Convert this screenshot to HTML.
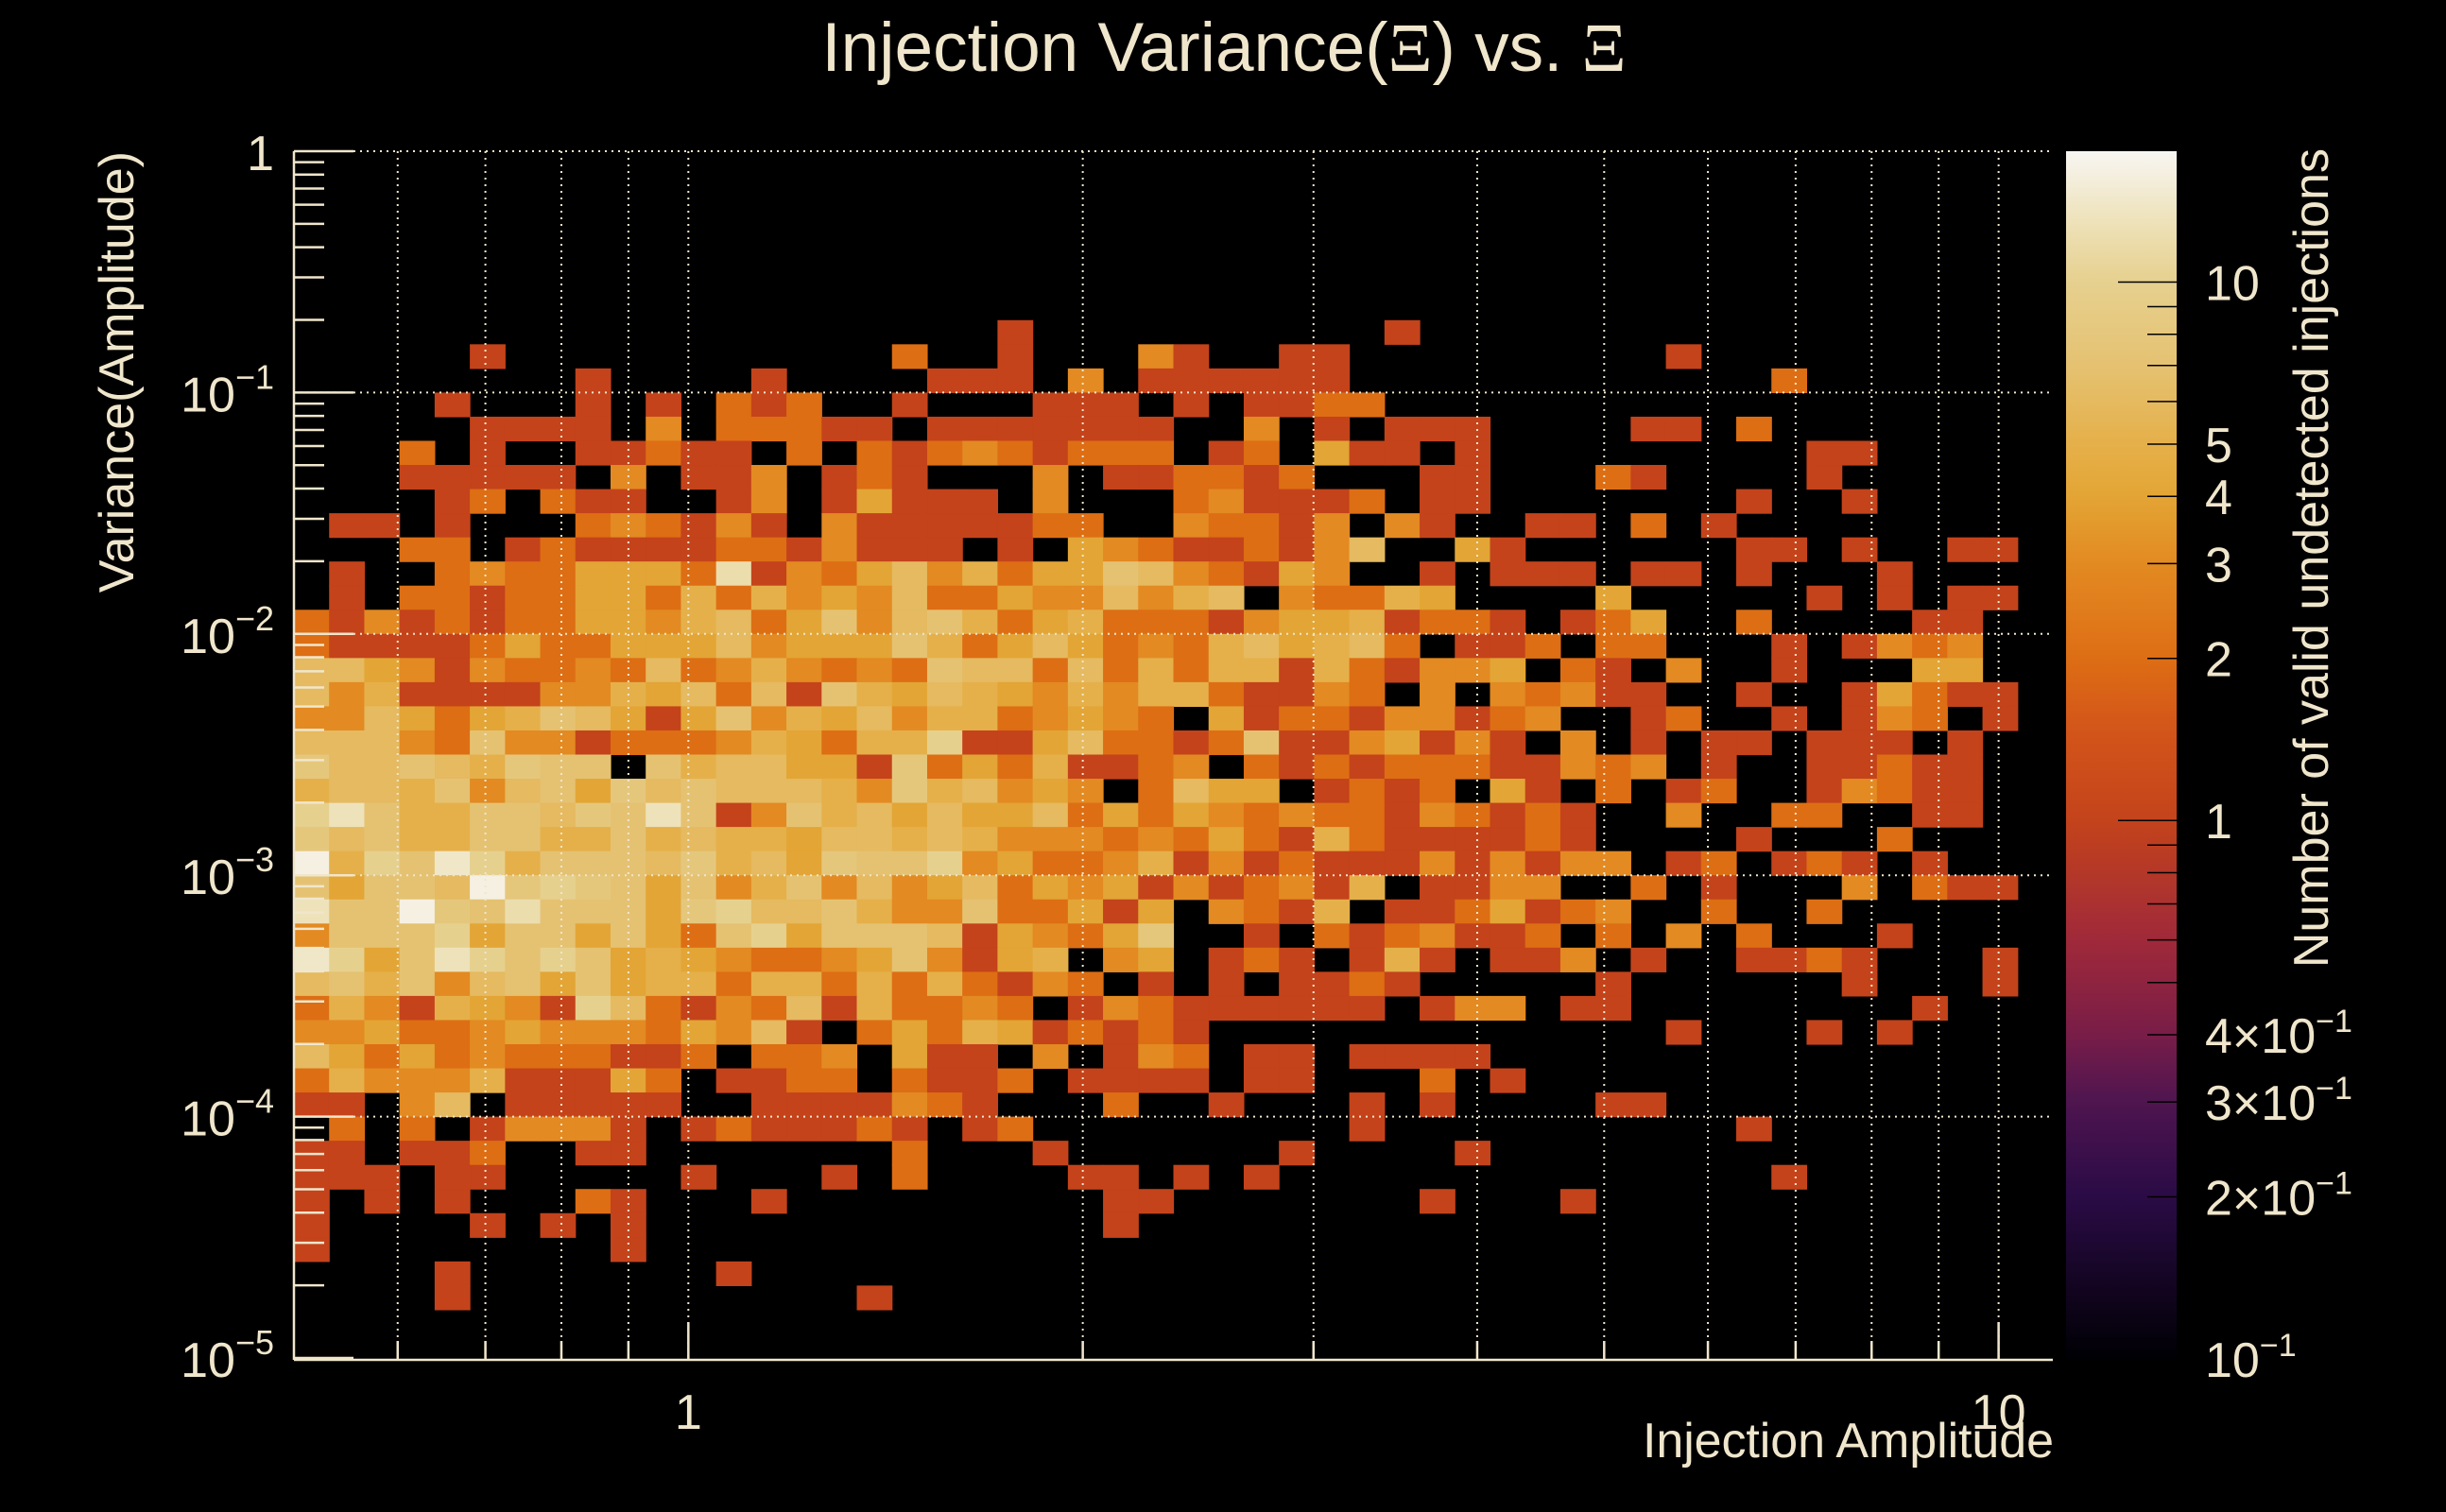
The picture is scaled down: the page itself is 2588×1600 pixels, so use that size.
<!DOCTYPE html>
<html><head><meta charset="utf-8"><title>Injection Variance vs Amplitude</title>
<style>
html,body{margin:0;padding:0;background:#000;}
svg{display:block;}
text{font-family:"Liberation Sans",Arial,sans-serif;fill:#f0e6cc;}
</style></head>
<body>
<svg id="chart" xmlns="http://www.w3.org/2000/svg" width="2588" height="1600" viewBox="0 0 2588 1600">
<rect x="0" y="0" width="2588" height="1600" fill="#000"/>
<text x="1295" y="75" font-size="73" text-anchor="middle">Injection Variance(<tspan font-family="Liberation Serif, serif">Ξ</tspan>) vs. <tspan font-family="Liberation Serif, serif">Ξ</tspan></text>
<g id="cells"></g>
<g id="grid"></g>
<g id="axes"></g>
<defs><linearGradient id="cbgrad" x1="0" y1="0" x2="0" y2="1"></linearGradient></defs>
<rect x="2186" y="160" width="117" height="1278" fill="url(#cbgrad)"/>
<g id="cbaxis"></g>
<text x="1738" y="1542" font-size="52" textLength="435">Injection Amplitude</text>
<text transform="translate(141,160) rotate(-90)" font-size="52" text-anchor="end">Variance(Amplitude)</text>
<text transform="translate(2463,157) rotate(-90)" font-size="52" text-anchor="end">Number of valid undetected injections</text>
</svg>
<script>
// ---- data ----
const rowCounts = [
"00000000000000000000000000000000000000000000000000",
"00000000000000000000000000000000000000000000000000",
"00000000000000000000000000000000000000000000000000",
"00000000000000000000000000000000000000000000000000",
"00000000000000000000000000000000000000000000000000",
"00000000000000000000000000000000000000000000000000",
"00000000000000000000000000000000000000000000000000",
"00000000000000000000100000000001000000000000000000",
"00000100000000000200100031001100000000010000000000",
"00000000100001000011103011111100000000000020000000",
"00001000101021200100011101011220000000000000000000",
"00000111103022211011111110030101110000110200000000",
"00020100112110202123212220120411010000000001100000",
"00011111030113012100030112212000110002100001000000",
"00001202110013014111030002311120110000000100100000",
"01101000232131031111122003221303100110201000000000",
"00022012111122131110104321121360041000000110100110",
"0100232244" + "42c1324635" + "2447632143" + "0010111011" + "0100010000",
"0102212244" + "2525343622" + "4336356032" + "2540000400" + "0001010110",
"2131212244" + "3562473675" + "2452221344" + "5122101240" + "0200001100",
"2111124224" + "4463444752" + "4642325645" + "6201120220" + "0010132300",
"6643132232" + "6235323276" + "6262525515" + "2133402103" + "0010004400",
"6351111335" + "4626175465" + "4353552113" + "2030323110" + "0100142110",
"3364245764" + "1473546355" + "2343204122" + "1331230012" + "0010132010",
"6663273312" + "22354255a1" + "1462212711" + "3413103010" + "1101110100",
"8667658770" + "7566441824" + "2511230212" + "1222113230" + "1001121100",
"5665736748" + "6766653856" + "3430264401" + "2120410201" + "2001321100",
"ad75577687" + "d713756464" + "4624243232" + "2132121003" + "0022001100",
"8675577557" + "5655466565" + "3332324215" + "2111121000" + "0100020000",
"g5a7ea5777" + "68564877a3" + "4223513121" + "1131313301" + "2012101000",
"74776g8a87" + "4735736346" + "2434131231" + "5011330020" + "1000302110",
"d77g87c777" + "48a6675337" + "2241403215" + "0112412300" + "2002000000",
"3777a47747" + "427a477761" + "4324800102" + "1231120203" + "0200010000",
"ea47da7a74" + "5432234731" + "4503401210" + "1510113010" + "0112100010",
"6757367474" + "5525525252" + "1320101011" + "2100000100" + "0000100010",
"25315431a6" + "2132615223" + "2013211111" + "1013301100" + "0000001000",
"3342234333" + "2436102425" + "4121210000" + "0000000001" + "0001010000",
"6424232221" + "1202230411" + "0301320110" + "1111000000" + "0000000000",
"2533351114" + "2011220211" + "2011110110" + "0020100000" + "0000000000",
"1103601111" + "1001111321" + "0002001000" + "1010000110" + "0000000000",
"0202013331" + "0121112101" + "2000000000" + "1000000000" + "0100000000",
"1101120011" + "0000000200" + "0100000010" + "0001000000" + "0000000000",
"1110110000" + "0100010200" + "0011010100" + "0000000000" + "0010000000",
"1010100021" + "0001000000" + "0001100000" + "0010001000" + "0000000000",
"1000010101" + "0000000000" + "0001000000" + "0000000000" + "0000000000",
"1000000001" + "0000000000" + "0000000000" + "0000000000" + "0000000000",
"0000100000" + "0010000000" + "0000000000" + "0000000000" + "0000000000",
"0000100000" + "0000001000" + "0000000000" + "0000000000" + "0000000000",
"00000000000000000000000000000000000000000000000000",
"00000000000000000000000000000000000000000000000000"
];
const xRange = [0.5, 11];
const yRange = [1e-5, 1];
const zRange = [0.1, 17.5];
const nBinsX = 50;
const nBinsY = 50;
const xTickLabels = ["1", "10"];
const xTickValues = [1, 10];
const xGridValues = [0.6,0.7,0.8,0.9,1,2,3,4,5,6,7,8,9,10];
const yTickExps = [0, -1, -2, -3, -4, -5];
const zTickValues = [10, 5, 4, 3, 2, 1, 0.4, 0.3, 0.2, 0.1];
const zTickLabels = ["10", "5", "4", "3", "2", "1", "4×10", "3×10", "2×10", "10"];
const zTickSup = ["", "", "", "", "", "", "−1", "−1", "−1", "−1"];

// ---- layout ----
const PL = 311, PR = 2172, PT = 160, PB = 1437;
const CB_X = 2186, CB_W = 117, CB_T = 160, CB_B = 1438;
const NS = "http://www.w3.org/2000/svg";
const L = Math.log10;
function xScale(v){ return PL + (L(v) - L(xRange[0])) / (L(xRange[1]) - L(xRange[0])) * (PR - PL); }
function yScale(v){ return PT + (L(yRange[1]) - L(v)) / (L(yRange[1]) - L(yRange[0])) * (PB - PT); }
function zScale(v){ return CB_T + (L(zRange[1]) - L(v)) / (L(zRange[1]) - L(zRange[0])) * (CB_B - CB_T); }

const cstops = [[-1,'#000004'],[-0.7,'#2a0b45'],[-0.523,'#4e1550'],[-0.398,'#781d48'],[-0.222,'#a0293a'],
 [0,'#c4431b'],[0.176,'#d4561a'],[0.301,'#dd6e14'],[0.477,'#e38a22'],[0.602,'#e3a535'],[0.7,'#e5b04a'],
 [0.845,'#e5c272'],[1,'#e6d08e'],[1.114,'#eee2ba'],[1.243,'#f8f6f2']];
function hex2(c){ return [parseInt(c.substr(1,2),16),parseInt(c.substr(3,2),16),parseInt(c.substr(5,2),16)]; }
function colorFor(v){
  const t = L(v);
  if (t <= cstops[0][0]) return cstops[0][1];
  for (let i=1;i<cstops.length;i++){
    if (t <= cstops[i][0]){
      const a=hex2(cstops[i-1][1]), b=hex2(cstops[i][1]);
      const f=(t-cstops[i-1][0])/(cstops[i][0]-cstops[i-1][0]);
      return 'rgb('+a.map((x,k)=>Math.round(x+(b[k]-x)*f)).join(',')+')';
    }
  }
  return cstops[cstops.length-1][1];
}
function mk(tag, attrs, parent){
  const e=document.createElementNS(NS,tag);
  for (const k in attrs) e.setAttribute(k, attrs[k]);
  parent.appendChild(e); return e;
}

// ---- cells ----
const gCells = document.getElementById('cells');
const lxStep = (L(xRange[1]) - L(xRange[0])) / nBinsX;
const lyStep = (L(yRange[1]) - L(yRange[0])) / nBinsY;
for (let r=0;r<nBinsY;r++){
  const row = rowCounts[r];
  const yHi = Math.pow(10, L(yRange[1]) - r*lyStep);
  const yLo = Math.pow(10, L(yRange[1]) - (r+1)*lyStep);
  for (let c=0;c<nBinsX;c++){
    const v = parseInt(row[c],36);
    if (!v) continue;
    const xLo = Math.pow(10, L(xRange[0]) + c*lxStep);
    const xHi = Math.pow(10, L(xRange[0]) + (c+1)*lxStep);
    const x0 = xScale(xLo), x1 = xScale(xHi), y0 = yScale(yHi), y1 = yScale(yLo);
    const el = mk('rect', {x:x0.toFixed(2), y:y0.toFixed(2), width:(x1-x0+0.6).toFixed(2), height:(y1-y0+0.6).toFixed(2), fill:colorFor(v)}, gCells);
    
    
  }
}

// ---- grid ----
const gGrid = document.getElementById('grid');
const gridStyle = {stroke:'#f0e6cc','stroke-width':2,'stroke-dasharray':'2,5'};
xGridValues.forEach(v=>{
  const x=xScale(v);
  const el = mk('line', Object.assign({x1:x,x2:x,y1:PT,y2:PB}, gridStyle), gGrid);
  
  
});
yTickExps.forEach(e=>{
  if (e === -5) return;
  const y=yScale(Math.pow(10,e));
  const el = mk('line', Object.assign({x1:PL,x2:PR,y1:y,y2:y}, gridStyle), gGrid);
  
  
});

// ---- axes ----
const gAx = document.getElementById('axes');
const axStyle = {stroke:'#f0e6cc','stroke-width':2.5};
let a1 = mk('line', Object.assign({x1:PL,x2:PL,y1:PT,y2:PB+2}, axStyle), gAx);


let a2 = mk('line', Object.assign({x1:PL,x2:PR,y1:PB+2,y2:PB+2}, axStyle), gAx);


// y ticks
yTickExps.forEach(e=>{
  const base = Math.pow(10,e);
  const y = yScale(base);
  const t = mk('line', Object.assign({x1:PL,x2:PL+63,y1:y,y2:y}, axStyle), gAx);
  
  
  if (e < 0){
    for (let m=2;m<=9;m++){
      const ym = yScale(base*m);
      const tm = mk('line', Object.assign({x1:PL,x2:PL+32,y1:ym,y2:ym}, axStyle), gAx);
      
      
    }
  }
  const lab = mk('text', {x:290, y:(y+20).toFixed(1), 'font-size':52, 'text-anchor':'end'}, gAx);
  
  
  if (e === 0){ lab.textContent = '1'; }
  else {
    const t1 = document.createElementNS(NS,'tspan'); t1.textContent='10'; lab.appendChild(t1);
    const t2 = document.createElementNS(NS,'tspan'); t2.textContent=String(e).replace('-','−');
    t2.setAttribute('font-size','36'); t2.setAttribute('dy','-24'); lab.appendChild(t2);
  }
});
// x ticks
xGridValues.forEach(v=>{
  const x=xScale(v);
  const major = xTickValues.indexOf(v) >= 0;
  const t = mk('line', Object.assign({x1:x,x2:x,y1:PB+2,y2:PB+2-(major?40:20)}, axStyle), gAx);
  
  
});
xTickValues.forEach((v,i)=>{
  const lab = mk('text', {x:xScale(v).toFixed(1), y:1512, 'font-size':52, 'text-anchor':'middle'}, gAx);
  lab.textContent = xTickLabels[i];
  
  
});

// ---- color bar ----
const grad = document.getElementById('cbgrad');
for (let i=0;i<=60;i++){
  const f=i/60;
  const v=Math.pow(10, L(zRange[1]) - f*(L(zRange[1])-L(zRange[0])));
  mk('stop', {offset:f, 'stop-color':colorFor(v)}, grad);
}
const gCb = document.getElementById('cbaxis');
const cbTicks = [];
[0.1,1].forEach(b=>{ for(let m=1;m<=9;m++) cbTicks.push(b*m); });
cbTicks.push(10);
cbTicks.forEach(v=>{
  if (v <= zRange[0]*1.001) return;
  const y=zScale(v);
  const major = (v===1||v===10);
  const t = mk('line', {x1:CB_X+CB_W-(major?62:31), x2:CB_X+CB_W, y1:y, y2:y, stroke:'#000','stroke-width':1.5}, gCb);
  
  
});
zTickValues.forEach((v,i)=>{
  const y=zScale(v);
  const lab = mk('text', {x:2333, y:(y+19).toFixed(1), 'font-size':52}, gCb);
  
  
  const t1 = document.createElementNS(NS,'tspan'); t1.textContent=zTickLabels[i]; lab.appendChild(t1);
  if (zTickSup[i]){
    const t2 = document.createElementNS(NS,'tspan'); t2.textContent=zTickSup[i];
    t2.setAttribute('font-size','34'); t2.setAttribute('dy','-22'); lab.appendChild(t2);
  }
});
</script>
</body></html>
